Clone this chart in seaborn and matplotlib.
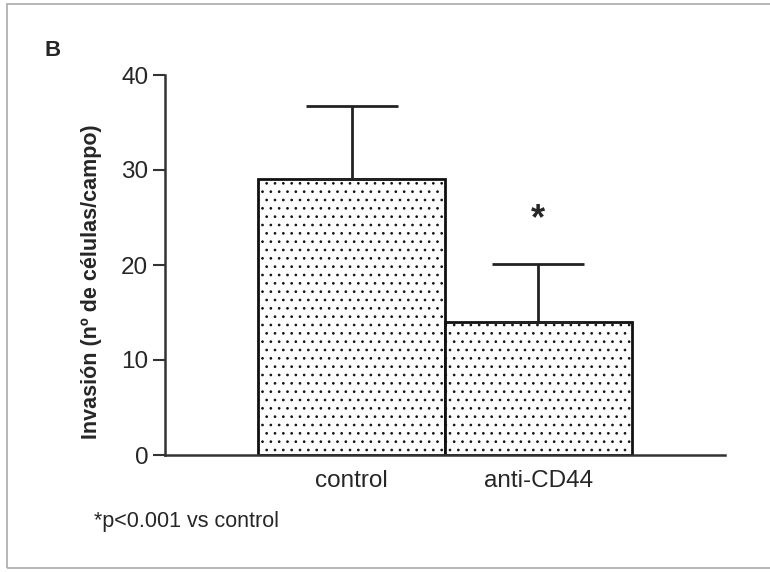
import matplotlib
matplotlib.use("Agg")
import matplotlib.pyplot as plt
import seaborn as sns
import pandas as pd
from matplotlib.patches import Rectangle

categories = ["control", "anti-CD44"]
means = [29.1, 14.0]
errors = [7.6, 6.1]
yticks = [0, 10, 20, 30, 40]

sns.set_theme(style="white")
plt.rcParams['font.family'] = ['Liberation Sans', 'DejaVu Sans']
plt.rcParams['hatch.color'] = '#d8d8d8'
plt.rcParams['hatch.linewidth'] = 0.7

fig = plt.figure(figsize=(7.7, 5.72), dpi=100)
ax = fig.add_axes([165/770, 1-455/572, 560/770, 380/572])

df = pd.DataFrame({"cat": categories, "val": means})
sns.barplot(data=df, x="cat", y="val", ax=ax, width=1.0, color="#fdfdfd",
            edgecolor="#111111", linewidth=2, errorbar=None, zorder=2)
for p in ax.patches:
    p.set_hatch('..')
ax.errorbar(range(len(categories)), means, yerr=[[0]*len(errors), errors],
            fmt='none', ecolor='#222222', elinewidth=2, capsize=33, capthick=2, zorder=3)

ax.set_xlim(-1.0, 2.0)
ax.set_ylim(0, 40)
ax.set_yticks(yticks)
ax.set_yticklabels([str(t) for t in yticks], fontsize=17.5)
ax.tick_params(axis='y', left=True, length=9, width=1.5, color='#333333', pad=3)
ax.tick_params(axis='x', bottom=False, labelsize=17.5, pad=5)
ax.set_xlabel("")
ax.set_ylabel("Invasión (nº de células/campo)", fontsize=15.5, fontweight='bold')
ax.yaxis.set_label_coords(-0.112, 0.455)
for s in ['top', 'right']:
    ax.spines[s].set_visible(False)
for s in ['left', 'bottom']:
    ax.spines[s].set_color('#333333')
    ax.spines[s].set_linewidth(1.8)

ax.text(1, 24.8, "*", ha='center', va='center', fontsize=26, fontweight='bold')

fig.text(44/770, 1-50/572, "B", fontsize=16, fontweight='bold', ha='left', va='center')
fig.text(94/770, 1-522/572, "*p<0.001 vs control", fontsize=15.5, ha='left', va='center')

fig.patches.append(Rectangle((7/770, 1-568/572), 1.0, 564/572, transform=fig.transFigure,
                             fill=False, edgecolor='#aaaaaa', linewidth=1.2))

fig.savefig("out.png", dpi=100)
